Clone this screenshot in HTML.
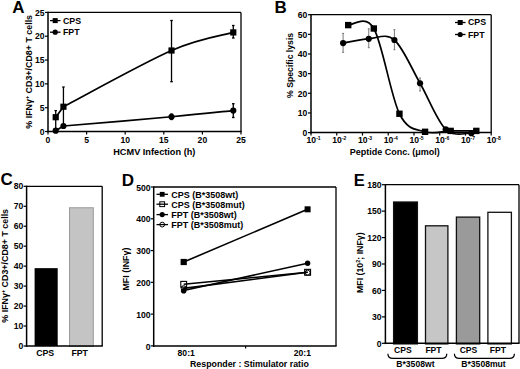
<!DOCTYPE html><html><head><meta charset="utf-8"><style>html,body{margin:0;padding:0;background:#fff;width:520px;height:369px;overflow:hidden}svg{display:block}text{font-family:"Liberation Sans",sans-serif;fill:#000}</style></head><body>
<svg width="520" height="369" viewBox="0 0 520 369">
<rect width="520" height="369" fill="#fff"/>
<text x="12.20" y="13.00" font-size="17" text-anchor="start" font-weight="bold" >A</text>
<line x1="48.00" y1="12.40" x2="241.00" y2="12.40" stroke="#000" stroke-width="1.3" />
<line x1="241.00" y1="12.40" x2="241.00" y2="131.50" stroke="#000" stroke-width="1.3" />
<line x1="48.00" y1="11.80" x2="48.00" y2="132.30" stroke="#000" stroke-width="1.5" />
<line x1="47.20" y1="131.50" x2="241.60" y2="131.50" stroke="#000" stroke-width="1.5" />
<line x1="45.00" y1="131.50" x2="48.00" y2="131.50" stroke="#000" stroke-width="1.2" />
<text x="44.60" y="134.60" font-size="8.6" text-anchor="end" font-weight="bold" >0</text>
<line x1="48.00" y1="131.50" x2="48.00" y2="134.50" stroke="#000" stroke-width="1.2" />
<text x="48.00" y="143.40" font-size="8.6" text-anchor="middle" font-weight="bold" >0</text>
<line x1="45.00" y1="107.68" x2="48.00" y2="107.68" stroke="#000" stroke-width="1.2" />
<text x="44.60" y="110.78" font-size="8.6" text-anchor="end" font-weight="bold" >5</text>
<line x1="86.60" y1="131.50" x2="86.60" y2="134.50" stroke="#000" stroke-width="1.2" />
<text x="86.60" y="143.40" font-size="8.6" text-anchor="middle" font-weight="bold" >5</text>
<line x1="45.00" y1="83.86" x2="48.00" y2="83.86" stroke="#000" stroke-width="1.2" />
<text x="44.60" y="86.96" font-size="8.6" text-anchor="end" font-weight="bold" >10</text>
<line x1="125.20" y1="131.50" x2="125.20" y2="134.50" stroke="#000" stroke-width="1.2" />
<text x="125.20" y="143.40" font-size="8.6" text-anchor="middle" font-weight="bold" >10</text>
<line x1="45.00" y1="60.04" x2="48.00" y2="60.04" stroke="#000" stroke-width="1.2" />
<text x="44.60" y="63.14" font-size="8.6" text-anchor="end" font-weight="bold" >15</text>
<line x1="163.80" y1="131.50" x2="163.80" y2="134.50" stroke="#000" stroke-width="1.2" />
<text x="163.80" y="143.40" font-size="8.6" text-anchor="middle" font-weight="bold" >15</text>
<line x1="45.00" y1="36.22" x2="48.00" y2="36.22" stroke="#000" stroke-width="1.2" />
<text x="44.60" y="39.32" font-size="8.6" text-anchor="end" font-weight="bold" >20</text>
<line x1="202.40" y1="131.50" x2="202.40" y2="134.50" stroke="#000" stroke-width="1.2" />
<text x="202.40" y="143.40" font-size="8.6" text-anchor="middle" font-weight="bold" >20</text>
<line x1="45.00" y1="12.40" x2="48.00" y2="12.40" stroke="#000" stroke-width="1.2" />
<text x="44.60" y="15.50" font-size="8.6" text-anchor="end" font-weight="bold" >25</text>
<line x1="241.00" y1="131.50" x2="241.00" y2="134.50" stroke="#000" stroke-width="1.2" />
<text x="241.00" y="143.40" font-size="8.6" text-anchor="middle" font-weight="bold" >25</text>
<text x="154.30" y="155.30" font-size="9.2" text-anchor="middle" font-weight="bold" >HCMV Infection (h)</text>
<text transform="translate(32.4,71.8) rotate(-90)" font-size="8.9" text-anchor="middle" font-weight="bold">% IFN&#947;<tspan font-size="5.5" dy="-3">+</tspan><tspan dy="3"> CD3+/CD8+ T cells</tspan></text>
<path d="M55.72,117.21 L63.44,106.73" fill="none" stroke="#000" stroke-width="1.7" />
<path d="M63.44,106.73 C81.45,97.36 143.21,62.90 171.52,50.51 C199.83,38.13 222.99,35.43 233.28,32.41" fill="none" stroke="#000" stroke-width="1.7" />
<path d="M55.72,130.69 L63.44,126.02" fill="none" stroke="#000" stroke-width="1.7" />
<path d="M63.44,126.02 C81.45,124.47 143.21,119.31 171.52,116.73 C199.83,114.15 222.99,111.57 233.28,110.54" fill="none" stroke="#000" stroke-width="1.7" />
<line x1="55.72" y1="110.60" x2="55.72" y2="128.00" stroke="#000" stroke-width="1.3" />
<line x1="54.42" y1="110.60" x2="57.02" y2="110.60" stroke="#000" stroke-width="1.2" />
<line x1="63.44" y1="87.00" x2="63.44" y2="126.00" stroke="#000" stroke-width="1.3" />
<line x1="62.14" y1="87.00" x2="64.74" y2="87.00" stroke="#000" stroke-width="1.2" />
<line x1="171.52" y1="20.50" x2="171.52" y2="81.70" stroke="#000" stroke-width="1.3" />
<line x1="170.22" y1="20.50" x2="172.82" y2="20.50" stroke="#000" stroke-width="1.3" />
<line x1="170.22" y1="81.70" x2="172.82" y2="81.70" stroke="#000" stroke-width="1.3" />
<line x1="233.28" y1="25.50" x2="233.28" y2="38.00" stroke="#000" stroke-width="1.3" />
<line x1="231.98" y1="25.50" x2="234.58" y2="25.50" stroke="#000" stroke-width="1.3" />
<line x1="231.98" y1="38.00" x2="234.58" y2="38.00" stroke="#000" stroke-width="1.3" />
<line x1="233.28" y1="103.70" x2="233.28" y2="117.50" stroke="#000" stroke-width="1.3" />
<line x1="231.98" y1="103.70" x2="234.58" y2="103.70" stroke="#000" stroke-width="1.3" />
<line x1="231.98" y1="117.50" x2="234.58" y2="117.50" stroke="#000" stroke-width="1.3" />
<line x1="171.52" y1="114.00" x2="171.52" y2="119.50" stroke="#000" stroke-width="1.3" />
<line x1="170.22" y1="114.00" x2="172.82" y2="114.00" stroke="#000" stroke-width="1.3" />
<line x1="170.22" y1="119.50" x2="172.82" y2="119.50" stroke="#000" stroke-width="1.3" />
<rect x="52.62" y="114.11" width="6.2" height="6.2" fill="#000" stroke="none" stroke-width="1"/>
<rect x="60.34" y="103.63" width="6.2" height="6.2" fill="#000" stroke="none" stroke-width="1"/>
<rect x="168.42" y="47.41" width="6.2" height="6.2" fill="#000" stroke="none" stroke-width="1"/>
<rect x="230.18" y="29.31" width="6.2" height="6.2" fill="#000" stroke="none" stroke-width="1"/>
<circle cx="55.72" cy="130.69" r="3.1" fill="#000" stroke="none" stroke-width="1"/>
<circle cx="63.44" cy="126.02" r="3.1" fill="#000" stroke="none" stroke-width="1"/>
<circle cx="171.52" cy="116.73" r="3.1" fill="#000" stroke="none" stroke-width="1"/>
<circle cx="233.28" cy="110.54" r="3.1" fill="#000" stroke="none" stroke-width="1"/>
<line x1="50.00" y1="20.60" x2="60.50" y2="20.60" stroke="#000" stroke-width="1.3" />
<rect x="52.70" y="18.10" width="5.0" height="5.0" fill="#000" stroke="none" stroke-width="1"/>
<text x="63.00" y="23.80" font-size="8.8" text-anchor="start" font-weight="bold" >CPS</text>
<line x1="50.00" y1="32.20" x2="60.50" y2="32.20" stroke="#000" stroke-width="1.3" />
<circle cx="55.20" cy="32.20" r="2.6" fill="#000" stroke="none" stroke-width="1"/>
<text x="63.00" y="35.40" font-size="8.8" text-anchor="start" font-weight="bold" >FPT</text>
<text x="274.60" y="13.10" font-size="17" text-anchor="start" font-weight="bold" >B</text>
<line x1="311.00" y1="14.70" x2="491.20" y2="14.70" stroke="#000" stroke-width="1.3" />
<line x1="491.20" y1="14.70" x2="491.20" y2="132.60" stroke="#000" stroke-width="1.3" />
<line x1="311.00" y1="14.10" x2="311.00" y2="133.40" stroke="#000" stroke-width="1.5" />
<line x1="310.20" y1="132.60" x2="491.80" y2="132.60" stroke="#000" stroke-width="1.5" />
<line x1="308.00" y1="132.60" x2="311.00" y2="132.60" stroke="#000" stroke-width="1.2" />
<text x="307.30" y="136.00" font-size="8.6" text-anchor="end" font-weight="bold" >0</text>
<line x1="308.00" y1="112.95" x2="311.00" y2="112.95" stroke="#000" stroke-width="1.2" />
<text x="307.30" y="116.35" font-size="8.6" text-anchor="end" font-weight="bold" >10</text>
<line x1="308.00" y1="93.30" x2="311.00" y2="93.30" stroke="#000" stroke-width="1.2" />
<text x="307.30" y="96.70" font-size="8.6" text-anchor="end" font-weight="bold" >20</text>
<line x1="308.00" y1="73.65" x2="311.00" y2="73.65" stroke="#000" stroke-width="1.2" />
<text x="307.30" y="77.05" font-size="8.6" text-anchor="end" font-weight="bold" >30</text>
<line x1="308.00" y1="54.00" x2="311.00" y2="54.00" stroke="#000" stroke-width="1.2" />
<text x="307.30" y="57.40" font-size="8.6" text-anchor="end" font-weight="bold" >40</text>
<line x1="308.00" y1="34.35" x2="311.00" y2="34.35" stroke="#000" stroke-width="1.2" />
<text x="307.30" y="37.75" font-size="8.6" text-anchor="end" font-weight="bold" >50</text>
<line x1="308.00" y1="14.70" x2="311.00" y2="14.70" stroke="#000" stroke-width="1.2" />
<text x="307.30" y="18.10" font-size="8.6" text-anchor="end" font-weight="bold" >60</text>
<line x1="311.00" y1="132.60" x2="311.00" y2="135.60" stroke="#000" stroke-width="1.2" />
<text x="306.60" y="143.3" font-size="8.6" font-weight="bold">10<tspan font-size="5.0" dy="-3.3">-1</tspan></text>
<line x1="336.74" y1="132.60" x2="336.74" y2="135.60" stroke="#000" stroke-width="1.2" />
<text x="332.34" y="143.3" font-size="8.6" font-weight="bold">10<tspan font-size="5.0" dy="-3.3">-2</tspan></text>
<line x1="362.49" y1="132.60" x2="362.49" y2="135.60" stroke="#000" stroke-width="1.2" />
<text x="358.09" y="143.3" font-size="8.6" font-weight="bold">10<tspan font-size="5.0" dy="-3.3">-3</tspan></text>
<line x1="388.23" y1="132.60" x2="388.23" y2="135.60" stroke="#000" stroke-width="1.2" />
<text x="383.83" y="143.3" font-size="8.6" font-weight="bold">10<tspan font-size="5.0" dy="-3.3">-4</tspan></text>
<line x1="413.97" y1="132.60" x2="413.97" y2="135.60" stroke="#000" stroke-width="1.2" />
<text x="409.57" y="143.3" font-size="8.6" font-weight="bold">10<tspan font-size="5.0" dy="-3.3">-5</tspan></text>
<line x1="439.71" y1="132.60" x2="439.71" y2="135.60" stroke="#000" stroke-width="1.2" />
<text x="435.31" y="143.3" font-size="8.6" font-weight="bold">10<tspan font-size="5.0" dy="-3.3">-6</tspan></text>
<line x1="465.46" y1="132.60" x2="465.46" y2="135.60" stroke="#000" stroke-width="1.2" />
<text x="461.06" y="143.3" font-size="8.6" font-weight="bold">10<tspan font-size="5.0" dy="-3.3">-7</tspan></text>
<line x1="491.20" y1="132.60" x2="491.20" y2="135.60" stroke="#000" stroke-width="1.2" />
<text x="486.80" y="143.3" font-size="8.6" font-weight="bold">10<tspan font-size="5.0" dy="-3.3">-8</tspan></text>
<text x="394.80" y="155.20" font-size="9.0" text-anchor="middle" font-weight="bold" >Peptide Conc. (&#956;mol)</text>
<text transform="translate(292.7,65.4) rotate(-90)" font-size="8.7" text-anchor="middle" font-weight="bold">% Specific lysis</text>
<line x1="343.10" y1="33.40" x2="343.10" y2="52.30" stroke="#777" stroke-width="1.0" />
<line x1="342.10" y1="33.40" x2="344.10" y2="33.40" stroke="#777" stroke-width="1.0" />
<line x1="342.10" y1="52.30" x2="344.10" y2="52.30" stroke="#777" stroke-width="1.0" />
<line x1="368.75" y1="28.80" x2="368.75" y2="47.70" stroke="#777" stroke-width="1.0" />
<line x1="367.75" y1="28.80" x2="369.75" y2="28.80" stroke="#777" stroke-width="1.0" />
<line x1="367.75" y1="47.70" x2="369.75" y2="47.70" stroke="#777" stroke-width="1.0" />
<line x1="394.40" y1="29.70" x2="394.40" y2="49.70" stroke="#777" stroke-width="1.0" />
<line x1="393.40" y1="29.70" x2="395.40" y2="29.70" stroke="#777" stroke-width="1.0" />
<line x1="393.40" y1="49.70" x2="395.40" y2="49.70" stroke="#777" stroke-width="1.0" />
<line x1="420.05" y1="78.00" x2="420.05" y2="91.00" stroke="#777" stroke-width="1.0" />
<line x1="419.05" y1="78.00" x2="421.05" y2="78.00" stroke="#777" stroke-width="1.0" />
<line x1="419.05" y1="91.00" x2="421.05" y2="91.00" stroke="#777" stroke-width="1.0" />
<path d="M343.10,43.10 C347.38,42.38 360.20,39.32 368.75,38.80 C377.30,38.28 385.85,32.59 394.40,40.00 C402.95,47.41 411.50,68.37 420.05,83.25 C428.60,98.13 437.15,120.98 445.70,129.30 C454.25,137.62 467.08,132.55 471.35,133.20" fill="none" stroke="#000" stroke-width="1.7" />
<path d="M348.20,25.10 C352.47,25.67 365.28,13.72 373.82,28.50 C382.36,43.27 390.90,96.53 399.44,113.75 C407.98,130.97 416.52,128.94 425.06,131.80 C433.60,134.66 442.14,131.05 450.68,130.90 C459.22,130.75 472.03,130.90 476.30,130.90" fill="none" stroke="#000" stroke-width="1.7" />
<rect x="345.00" y="21.90" width="6.4" height="6.4" fill="#000" stroke="none" stroke-width="1"/>
<rect x="370.62" y="25.30" width="6.4" height="6.4" fill="#000" stroke="none" stroke-width="1"/>
<rect x="396.24" y="110.55" width="6.4" height="6.4" fill="#000" stroke="none" stroke-width="1"/>
<rect x="421.86" y="128.60" width="6.4" height="6.4" fill="#000" stroke="none" stroke-width="1"/>
<rect x="447.48" y="127.70" width="6.4" height="6.4" fill="#000" stroke="none" stroke-width="1"/>
<rect x="473.10" y="127.70" width="6.4" height="6.4" fill="#000" stroke="none" stroke-width="1"/>
<circle cx="343.10" cy="43.10" r="3.1" fill="#000" stroke="none" stroke-width="1"/>
<circle cx="368.75" cy="38.80" r="3.1" fill="#000" stroke="none" stroke-width="1"/>
<circle cx="394.40" cy="40.00" r="3.1" fill="#000" stroke="none" stroke-width="1"/>
<circle cx="420.05" cy="83.25" r="3.1" fill="#000" stroke="none" stroke-width="1"/>
<circle cx="445.70" cy="129.30" r="3.1" fill="#000" stroke="none" stroke-width="1"/>
<circle cx="471.35" cy="133.20" r="3.1" fill="#000" stroke="none" stroke-width="1"/>
<line x1="455.00" y1="22.50" x2="465.50" y2="22.50" stroke="#000" stroke-width="1.3" />
<rect x="457.70" y="20.00" width="5.0" height="5.0" fill="#000" stroke="none" stroke-width="1"/>
<text x="468.00" y="25.20" font-size="8.8" text-anchor="start" font-weight="bold" >CPS</text>
<line x1="455.00" y1="34.50" x2="465.50" y2="34.50" stroke="#000" stroke-width="1.3" />
<circle cx="460.20" cy="34.50" r="2.6" fill="#000" stroke="none" stroke-width="1"/>
<text x="468.00" y="37.70" font-size="8.8" text-anchor="start" font-weight="bold" >FPT</text>
<text x="0.40" y="184.80" font-size="17" text-anchor="start" font-weight="bold" >C</text>
<rect x="34.6" y="268.15" width="23.1" height="77.85" fill="#000"/>
<rect x="69.5" y="207.76" width="23.8" height="138.74" fill="#c4c4c4" stroke="#9a9a9a" stroke-width="1"/>
<line x1="26.60" y1="186.30" x2="102.20" y2="186.30" stroke="#000" stroke-width="1.3" />
<line x1="102.20" y1="186.30" x2="102.20" y2="346.00" stroke="#000" stroke-width="1.3" />
<line x1="26.60" y1="185.70" x2="26.60" y2="346.80" stroke="#000" stroke-width="1.5" />
<line x1="25.80" y1="346.00" x2="102.80" y2="346.00" stroke="#000" stroke-width="1.5" />
<line x1="23.60" y1="346.00" x2="26.60" y2="346.00" stroke="#000" stroke-width="1.2" />
<text x="23.20" y="349.10" font-size="8.6" text-anchor="end" font-weight="bold" >0</text>
<line x1="23.60" y1="326.04" x2="26.60" y2="326.04" stroke="#000" stroke-width="1.2" />
<text x="23.20" y="329.14" font-size="8.6" text-anchor="end" font-weight="bold" >10</text>
<line x1="23.60" y1="306.07" x2="26.60" y2="306.07" stroke="#000" stroke-width="1.2" />
<text x="23.20" y="309.18" font-size="8.6" text-anchor="end" font-weight="bold" >20</text>
<line x1="23.60" y1="286.11" x2="26.60" y2="286.11" stroke="#000" stroke-width="1.2" />
<text x="23.20" y="289.21" font-size="8.6" text-anchor="end" font-weight="bold" >30</text>
<line x1="23.60" y1="266.15" x2="26.60" y2="266.15" stroke="#000" stroke-width="1.2" />
<text x="23.20" y="269.25" font-size="8.6" text-anchor="end" font-weight="bold" >40</text>
<line x1="23.60" y1="246.19" x2="26.60" y2="246.19" stroke="#000" stroke-width="1.2" />
<text x="23.20" y="249.29" font-size="8.6" text-anchor="end" font-weight="bold" >50</text>
<line x1="23.60" y1="226.22" x2="26.60" y2="226.22" stroke="#000" stroke-width="1.2" />
<text x="23.20" y="229.32" font-size="8.6" text-anchor="end" font-weight="bold" >60</text>
<line x1="23.60" y1="206.26" x2="26.60" y2="206.26" stroke="#000" stroke-width="1.2" />
<text x="23.20" y="209.36" font-size="8.6" text-anchor="end" font-weight="bold" >70</text>
<line x1="23.60" y1="186.30" x2="26.60" y2="186.30" stroke="#000" stroke-width="1.2" />
<text x="23.20" y="189.40" font-size="8.6" text-anchor="end" font-weight="bold" >80</text>
<text x="45.20" y="356.30" font-size="8.8" text-anchor="middle" font-weight="bold" >CPS</text>
<text x="79.70" y="356.30" font-size="8.8" text-anchor="middle" font-weight="bold" >FPT</text>
<text transform="translate(7.8,265.8) rotate(-90)" font-size="8.9" text-anchor="middle" font-weight="bold">% IFN&#947;<tspan font-size="5.5" dy="-3">+</tspan><tspan dy="3"> CD3+/CD8+ T cells</tspan></text>
<text x="121.80" y="186.00" font-size="17" text-anchor="start" font-weight="bold" >D</text>
<line x1="153.70" y1="187.00" x2="336.00" y2="187.00" stroke="#000" stroke-width="1.3" />
<line x1="336.00" y1="187.00" x2="336.00" y2="345.90" stroke="#000" stroke-width="1.3" />
<line x1="153.70" y1="186.40" x2="153.70" y2="346.70" stroke="#000" stroke-width="1.5" />
<line x1="152.90" y1="345.90" x2="336.60" y2="345.90" stroke="#000" stroke-width="1.5" />
<line x1="150.70" y1="345.90" x2="153.70" y2="345.90" stroke="#000" stroke-width="1.2" />
<text x="150.60" y="349.50" font-size="8.6" text-anchor="end" font-weight="bold" >0</text>
<line x1="150.70" y1="314.12" x2="153.70" y2="314.12" stroke="#000" stroke-width="1.2" />
<text x="150.60" y="317.72" font-size="8.6" text-anchor="end" font-weight="bold" >100</text>
<line x1="150.70" y1="282.34" x2="153.70" y2="282.34" stroke="#000" stroke-width="1.2" />
<text x="150.60" y="285.94" font-size="8.6" text-anchor="end" font-weight="bold" >200</text>
<line x1="150.70" y1="250.56" x2="153.70" y2="250.56" stroke="#000" stroke-width="1.2" />
<text x="150.60" y="254.16" font-size="8.6" text-anchor="end" font-weight="bold" >300</text>
<line x1="150.70" y1="218.78" x2="153.70" y2="218.78" stroke="#000" stroke-width="1.2" />
<text x="150.60" y="222.38" font-size="8.6" text-anchor="end" font-weight="bold" >400</text>
<line x1="150.70" y1="187.00" x2="153.70" y2="187.00" stroke="#000" stroke-width="1.2" />
<text x="150.60" y="190.60" font-size="8.6" text-anchor="end" font-weight="bold" >500</text>
<line x1="245.60" y1="345.90" x2="245.60" y2="348.40" stroke="#000" stroke-width="1.2" />
<text x="186.20" y="355.60" font-size="8.6" text-anchor="middle" font-weight="bold" >80:1</text>
<text x="302.40" y="355.60" font-size="8.6" text-anchor="middle" font-weight="bold" >20:1</text>
<text x="249.40" y="366.60" font-size="8.8" text-anchor="middle" font-weight="bold" >Responder : Stimulator ratio</text>
<text transform="translate(128.8,269.1) rotate(-90)" font-size="8.9" text-anchor="middle" font-weight="bold">MFI (INF&#947;)</text>
<line x1="183.70" y1="262.00" x2="307.60" y2="209.30" stroke="#000" stroke-width="1.6" />
<line x1="183.70" y1="290.50" x2="307.60" y2="263.20" stroke="#000" stroke-width="1.6" />
<line x1="183.70" y1="284.20" x2="307.60" y2="272.30" stroke="#000" stroke-width="1.6" />
<line x1="183.70" y1="288.40" x2="307.60" y2="272.30" stroke="#000" stroke-width="1.6" />
<circle cx="183.70" cy="288.20" r="2.5" fill="none" stroke="#000" stroke-width="1.0"/>
<circle cx="307.60" cy="272.60" r="2.5" fill="none" stroke="#000" stroke-width="1.0"/>
<rect x="180.80" y="281.40" width="5.8" height="5.8" fill="none" stroke="#000" stroke-width="1.1"/>
<rect x="304.65" y="269.35" width="5.9" height="5.9" fill="none" stroke="#000" stroke-width="1.1"/>
<circle cx="183.70" cy="290.80" r="2.8" fill="#000" stroke="none" stroke-width="1"/>
<circle cx="307.60" cy="263.20" r="2.7" fill="#000" stroke="none" stroke-width="1"/>
<rect x="180.60" y="258.90" width="6.2" height="6.2" fill="#000" stroke="none" stroke-width="1"/>
<rect x="304.60" y="206.30" width="6.0" height="6.0" fill="#000" stroke="none" stroke-width="1"/>
<line x1="156.50" y1="194.30" x2="168.00" y2="194.30" stroke="#000" stroke-width="1.3" />
<rect x="159.80" y="191.90" width="4.8" height="4.8" fill="#000" stroke="none" stroke-width="1"/>
<text x="171.30" y="197.60" font-size="9.0" text-anchor="start" font-weight="bold" >CPS (B*3508wt)</text>
<line x1="156.50" y1="204.20" x2="168.00" y2="204.20" stroke="#000" stroke-width="1.3" />
<rect x="159.80" y="201.80" width="4.8" height="4.8" fill="none" stroke="#000" stroke-width="1.0"/>
<text x="171.30" y="207.50" font-size="9.0" text-anchor="start" font-weight="bold" >CPS (B*3508mut)</text>
<line x1="156.50" y1="214.60" x2="168.00" y2="214.60" stroke="#000" stroke-width="1.3" />
<circle cx="162.20" cy="214.60" r="2.6" fill="#000" stroke="none" stroke-width="1"/>
<text x="171.30" y="217.90" font-size="9.0" text-anchor="start" font-weight="bold" >FPT (B*3508wt)</text>
<line x1="156.50" y1="224.60" x2="168.00" y2="224.60" stroke="#000" stroke-width="1.3" />
<circle cx="162.20" cy="224.60" r="2.4" fill="none" stroke="#000" stroke-width="1.0"/>
<text x="171.30" y="227.90" font-size="9.0" text-anchor="start" font-weight="bold" >FPT (B*3508mut)</text>
<text x="353.80" y="186.20" font-size="16.5" text-anchor="start" font-weight="bold" >E</text>
<rect x="393.60" y="202.00" width="23.80" height="141.90" fill="#000" stroke="#111" stroke-width="1.3"/>
<rect x="425.50" y="225.80" width="22.40" height="118.10" fill="#c6c6c6" stroke="#111" stroke-width="1.3"/>
<rect x="456.40" y="217.10" width="23.30" height="126.80" fill="#9a9a9a" stroke="#111" stroke-width="1.3"/>
<rect x="487.90" y="212.30" width="23.50" height="131.60" fill="#fff" stroke="#111" stroke-width="1.3"/>
<line x1="385.40" y1="184.70" x2="519.00" y2="184.70" stroke="#000" stroke-width="1.3" />
<line x1="519.00" y1="184.70" x2="519.00" y2="343.30" stroke="#000" stroke-width="1.3" />
<line x1="385.40" y1="184.10" x2="385.40" y2="344.10" stroke="#000" stroke-width="1.5" />
<line x1="384.60" y1="343.30" x2="519.60" y2="343.30" stroke="#000" stroke-width="1.5" />
<line x1="381.80" y1="343.30" x2="385.40" y2="343.30" stroke="#000" stroke-width="1.2" />
<text x="381.50" y="346.60" font-size="8.6" text-anchor="end" font-weight="bold" >0</text>
<line x1="381.80" y1="316.87" x2="385.40" y2="316.87" stroke="#000" stroke-width="1.2" />
<text x="381.50" y="320.17" font-size="8.6" text-anchor="end" font-weight="bold" >30</text>
<line x1="381.80" y1="290.43" x2="385.40" y2="290.43" stroke="#000" stroke-width="1.2" />
<text x="381.50" y="293.73" font-size="8.6" text-anchor="end" font-weight="bold" >60</text>
<line x1="381.80" y1="264.00" x2="385.40" y2="264.00" stroke="#000" stroke-width="1.2" />
<text x="381.50" y="267.30" font-size="8.6" text-anchor="end" font-weight="bold" >90</text>
<line x1="381.80" y1="237.57" x2="385.40" y2="237.57" stroke="#000" stroke-width="1.2" />
<text x="381.50" y="240.87" font-size="8.6" text-anchor="end" font-weight="bold" >120</text>
<line x1="381.80" y1="211.13" x2="385.40" y2="211.13" stroke="#000" stroke-width="1.2" />
<text x="381.50" y="214.43" font-size="8.6" text-anchor="end" font-weight="bold" >150</text>
<line x1="381.80" y1="184.70" x2="385.40" y2="184.70" stroke="#000" stroke-width="1.2" />
<text x="381.50" y="188.00" font-size="8.6" text-anchor="end" font-weight="bold" >180</text>
<text x="402.80" y="353.40" font-size="8.6" text-anchor="middle" font-weight="bold" >CPS</text>
<text x="433.50" y="353.40" font-size="8.6" text-anchor="middle" font-weight="bold" >FPT</text>
<text x="468.50" y="353.40" font-size="8.6" text-anchor="middle" font-weight="bold" >CPS</text>
<text x="497.90" y="353.40" font-size="8.6" text-anchor="middle" font-weight="bold" >FPT</text>
<path d="M387.90,353.80 Q387.90,358.40 392.90,358.40 L441.80,358.40 Q446.80,358.40 446.80,353.80" fill="none" stroke="#000" stroke-width="1.2" />
<path d="M454.40,353.80 Q454.40,358.40 459.40,358.40 L509.40,358.40 Q514.40,358.40 514.40,353.80" fill="none" stroke="#000" stroke-width="1.2" />
<text x="415.40" y="367.00" font-size="8.6" text-anchor="middle" font-weight="bold" >B*3508wt</text>
<text x="483.50" y="367.00" font-size="8.6" text-anchor="middle" font-weight="bold" >B*3508mut</text>
<text transform="translate(363.0,262.7) rotate(-90)" font-size="8.8" text-anchor="middle" font-weight="bold">MFI (10<tspan font-size="5.4" dy="-3">2</tspan><tspan dy="3">; INF&#947;)</tspan></text>
</svg></body></html>
